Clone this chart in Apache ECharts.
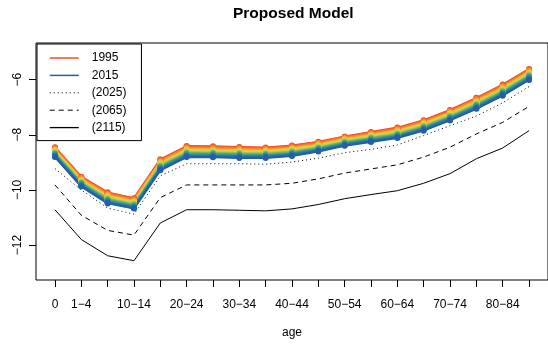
<!DOCTYPE html>
<html>
<head>
<meta charset="utf-8">
<script src="https://cdn.jsdelivr.net/npm/echarts@6/dist/echarts.min.js"></script>
<style>
  html, body { margin: 0; padding: 0; background: #fff; }
  #chart { width: 548px; height: 344px; }
</style>
</head>
<body>
<div id="chart"></div>
<script>
// Age groups along the x axis
const ageGroups = ['0','1-4','5-9','10-14','15-19','20-24','25-29','30-34','35-39','40-44',
                   '45-49','50-54','55-59','60-64','65-69','70-74','75-79','80-84','85+'];
// Age groups that carry a printed tick label
const labelledAges = ['0','1-4','10-14','20-24','30-34','40-44','50-54','60-64','70-74','80-84'];
// Log-mortality ticks on the y axis
const yTicks = [-12, -10, -8, -6];

// Observed log death rates by age, one array per calendar year
const rates1995 = [-8.45,-9.52,-10.09,-10.30,-8.89,-8.41,-8.42,-8.44,-8.46,-8.39,-8.25,-8.06,-7.90,-7.74,-7.47,-7.10,-6.66,-6.18,-5.61];
const rates1996 = [-8.47,-9.54,-10.11,-10.32,-8.91,-8.43,-8.44,-8.46,-8.48,-8.41,-8.27,-8.08,-7.92,-7.76,-7.49,-7.12,-6.68,-6.20,-5.63];
const rates1997 = [-8.49,-9.56,-10.13,-10.34,-8.93,-8.45,-8.46,-8.48,-8.50,-8.43,-8.29,-8.09,-7.94,-7.78,-7.51,-7.14,-6.70,-6.22,-5.65];
const rates1998 = [-8.50,-9.57,-10.15,-10.36,-8.95,-8.47,-8.48,-8.50,-8.52,-8.45,-8.30,-8.11,-7.95,-7.80,-7.53,-7.16,-6.72,-6.24,-5.67];
const rates1999 = [-8.52,-9.59,-10.17,-10.38,-8.97,-8.49,-8.50,-8.52,-8.54,-8.47,-8.32,-8.13,-7.97,-7.82,-7.55,-7.18,-6.74,-6.26,-5.69];
const rates2000 = [-8.54,-9.61,-10.19,-10.40,-8.99,-8.51,-8.52,-8.54,-8.56,-8.49,-8.34,-8.15,-7.99,-7.84,-7.57,-7.20,-6.76,-6.28,-5.71];
const rates2001 = [-8.56,-9.63,-10.21,-10.41,-9.01,-8.53,-8.54,-8.56,-8.57,-8.50,-8.36,-8.16,-8.01,-7.85,-7.58,-7.21,-6.78,-6.30,-5.73];
const rates2002 = [-8.58,-9.65,-10.23,-10.43,-9.03,-8.55,-8.56,-8.58,-8.59,-8.52,-8.38,-8.18,-8.03,-7.87,-7.60,-7.23,-6.80,-6.32,-5.75];
const rates2003 = [-8.59,-9.66,-10.25,-10.45,-9.05,-8.57,-8.58,-8.60,-8.61,-8.54,-8.39,-8.20,-8.04,-7.89,-7.62,-7.25,-6.82,-6.34,-5.77];
const rates2004 = [-8.61,-9.68,-10.27,-10.47,-9.07,-8.59,-8.60,-8.62,-8.63,-8.56,-8.41,-8.21,-8.06,-7.91,-7.64,-7.27,-6.84,-6.36,-5.79];
const rates2005 = [-8.63,-9.70,-10.29,-10.49,-9.09,-8.61,-8.62,-8.64,-8.65,-8.58,-8.43,-8.23,-8.08,-7.93,-7.66,-7.29,-6.86,-6.38,-5.81];
const rates2006 = [-8.65,-9.72,-10.31,-10.51,-9.11,-8.63,-8.64,-8.66,-8.67,-8.60,-8.45,-8.25,-8.10,-7.95,-7.68,-7.31,-6.88,-6.40,-5.83];
const rates2007 = [-8.67,-9.74,-10.33,-10.53,-9.13,-8.65,-8.66,-8.68,-8.69,-8.62,-8.47,-8.26,-8.12,-7.97,-7.70,-7.33,-6.90,-6.42,-5.85];
const rates2008 = [-8.68,-9.75,-10.35,-10.55,-9.15,-8.67,-8.68,-8.70,-8.71,-8.64,-8.48,-8.28,-8.13,-7.99,-7.72,-7.35,-6.92,-6.44,-5.87];
const rates2009 = [-8.70,-9.77,-10.37,-10.57,-9.17,-8.69,-8.70,-8.72,-8.73,-8.66,-8.50,-8.30,-8.15,-8.01,-7.74,-7.37,-6.94,-6.46,-5.89];
const rates2010 = [-8.72,-9.79,-10.39,-10.59,-9.19,-8.71,-8.72,-8.74,-8.75,-8.68,-8.52,-8.32,-8.17,-8.03,-7.76,-7.39,-6.96,-6.48,-5.91];
const rates2011 = [-8.74,-9.81,-10.41,-10.60,-9.21,-8.73,-8.74,-8.76,-8.76,-8.69,-8.54,-8.33,-8.19,-8.04,-7.77,-7.40,-6.98,-6.50,-5.93];
const rates2012 = [-8.76,-9.83,-10.43,-10.62,-9.23,-8.75,-8.76,-8.78,-8.78,-8.71,-8.56,-8.35,-8.21,-8.06,-7.79,-7.42,-7.00,-6.52,-5.95];
const rates2013 = [-8.77,-9.84,-10.45,-10.64,-9.25,-8.77,-8.78,-8.80,-8.80,-8.73,-8.57,-8.37,-8.22,-8.08,-7.81,-7.44,-7.02,-6.54,-5.97];
const rates2014 = [-8.79,-9.86,-10.47,-10.66,-9.27,-8.79,-8.80,-8.82,-8.82,-8.75,-8.59,-8.38,-8.24,-8.10,-7.83,-7.46,-7.04,-6.56,-5.99];
const rates2015 = [-8.81,-9.88,-10.49,-10.68,-9.29,-8.81,-8.82,-8.84,-8.84,-8.77,-8.61,-8.40,-8.26,-8.12,-7.85,-7.48,-7.06,-6.58,-6.01];

const observedYears = [1995,1996,1997,1998,1999,2000,2001,2002,2003,2004,2005,
                       2006,2007,2008,2009,2010,2011,2012,2013,2014,2015];
const observedRates = [rates1995,rates1996,rates1997,rates1998,rates1999,rates2000,rates2001,
                       rates2002,rates2003,rates2004,rates2005,rates2006,rates2007,rates2008,
                       rates2009,rates2010,rates2011,rates2012,rates2013,rates2014,rates2015];

// Projected log death rates
const proj2025 = [-9.23,-10.00,-10.66,-10.88,-9.49,-9.05,-9.05,-9.05,-9.07,-8.99,-8.85,-8.65,-8.53,-8.37,-8.03,-7.67,-7.32,-6.84,-6.25];
const proj2065 = [-9.82,-10.92,-11.47,-11.64,-10.28,-9.82,-9.82,-9.82,-9.82,-9.76,-9.60,-9.39,-9.24,-9.09,-8.81,-8.45,-7.97,-7.55,-6.97];
const proj2115 = [-10.72,-11.80,-12.39,-12.57,-11.20,-10.72,-10.72,-10.74,-10.76,-10.69,-10.53,-10.32,-10.17,-10.03,-9.76,-9.41,-8.87,-8.48,-7.85];

// Year colours, red (earliest) through yellow and green to blue (latest)
const yearPalette = ['#EE4B2B','#F05A2C','#F26A2D','#F47B2E','#F68C2F','#F79D30','#F8AE32',
                     '#F8BF35','#F2CC3C','#DCD046','#C2CF50','#A5C95A','#87C063','#69B66B',
                     '#4FAB76','#3E9E85','#349193','#2F83A1','#2B76AC','#2868AC','#245DA8'];

const FONT = '"Liberation Sans", Arial, Helvetica, sans-serif';
const MINUS = '\u2212';
const toPoints = vals => vals.map((v, i) => [i + 1, v]);

const series = observedYears.map((yr, k) => ({
  name: String(yr),
  type: 'line',
  data: toPoints(observedRates[k]),
  symbol: 'circle',
  symbolSize: 6,
  showSymbol: true,
  lineStyle: { color: yearPalette[k], width: 2 },
  itemStyle: { color: yearPalette[k] },
  silent: true,
  z: 3
}));

const projections = [
  { name: '(2025)', vals: proj2025, type: [1, 3] },
  { name: '(2065)', vals: proj2065, type: [5, 4] },
  { name: '(2115)', vals: proj2115, type: 'solid' }
];
projections.forEach(p => series.push({
  name: p.name,
  type: 'line',
  data: toPoints(p.vals),
  symbol: 'none',
  showSymbol: false,
  lineStyle: { color: '#000', width: 1, type: p.type },
  itemStyle: { color: '#000' },
  silent: true,
  z: 2
}));

// Legend keys are drawn as plain line samples (no point markers)
const legendKey = (name, width) => ({
  name: name,
  itemStyle: { opacity: 0 },
  lineStyle: { width: width }
});

const chart = echarts.init(document.getElementById('chart'), null, { renderer: 'canvas' });
chart.setOption({
  animation: false,
  backgroundColor: '#fff',
  title: {
    text: 'Proposed Model',
    left: 233, top: 6, padding: 0,
    textStyle: { fontFamily: FONT, fontSize: 15.5, fontWeight: 'bold', color: '#000' }
  },
  grid: {
    left: 36, top: 43, width: 514, height: 240,
    show: true, borderColor: '#000', borderWidth: 1, backgroundColor: 'transparent'
  },
  legend: {
    left: 37, top: 44, orient: 'vertical',
    padding: [8, 15, 7, 12], itemGap: 5.4, itemWidth: 29, itemHeight: 12,
    borderColor: '#000', borderWidth: 1, borderRadius: 0, backgroundColor: '#fff',
    selectedMode: false,
    textStyle: { fontFamily: FONT, fontSize: 12, color: '#000', padding: [0, 0, 0, 8] },
    data: [
      legendKey('1995', 1.5),
      legendKey('2015', 1.5),
      legendKey('(2025)', 1),
      legendKey('(2065)', 1),
      legendKey('(2115)', 1.3)
    ]
  },
  xAxis: {
    type: 'value', min: 0.28, max: 19.72,
    name: 'age', nameLocation: 'middle', nameGap: 47,
    nameTextStyle: { fontFamily: FONT, fontSize: 12, color: '#000' },
    axisLine: { show: false },
    splitLine: { show: false },
    axisTick: {
      show: true, length: 7, inside: false,
      customValues: ageGroups.map((_, i) => i + 1),
      lineStyle: { color: '#000', width: 1 }
    },
    axisLabel: {
      margin: 19,
      customValues: labelledAges.map(a => ageGroups.indexOf(a) + 1),
      formatter: v => ageGroups[Math.round(v) - 1].replace('-', MINUS),
      fontFamily: FONT, fontSize: 12, color: '#000'
    }
  },
  yAxis: {
    type: 'value', min: -13.27, max: -4.67,
    axisLine: { show: false },
    splitLine: { show: false },
    axisTick: {
      show: true, length: 7, inside: false,
      customValues: yTicks,
      lineStyle: { color: '#000', width: 1 }
    },
    axisLabel: {
      margin: 12, rotate: 90,
      customValues: yTicks,
      formatter: v => (v < 0 ? MINUS : '') + Math.abs(v),
      fontFamily: FONT, fontSize: 12, color: '#000'
    }
  },
  series: series
});
</script>
</body>
</html>
